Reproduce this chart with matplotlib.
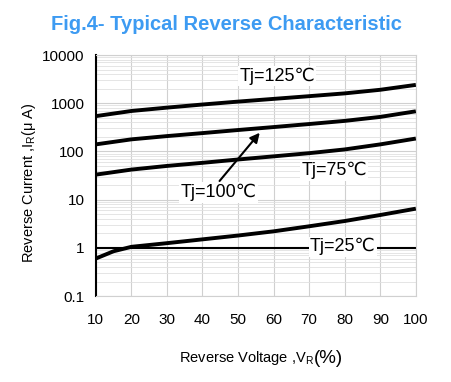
import numpy as np
import matplotlib
matplotlib.use("Agg")
import matplotlib.pyplot as plt
from matplotlib.ticker import LogLocator, FixedLocator, NullFormatter

plt.rcParams['font.family'] = ['Liberation Sans', 'DejaVu Sans']
plt.rcParams['mathtext.fontset'] = 'custom'
plt.rcParams['mathtext.rm'] = 'Liberation Sans'

# reverse voltage (% of rated)
volt = [10, 20, 30, 40, 50, 60, 70, 80, 90, 100]
# reverse current in uA
i_125 = [540, 690, 810, 940, 1080, 1230, 1400, 1600, 1900, 2400]
i_100 = [140, 178, 208, 240, 278, 320, 370, 430, 520, 680]
i_75 = [33, 42, 50, 58, 68, 79, 92, 110, 140, 185]
volt_25 = [10, 15, 20, 30, 40, 50, 60, 70, 80, 90, 100]
i_25 = [0.6, 0.85, 1.05, 1.25, 1.5, 1.8, 2.2, 2.8, 3.6, 4.8, 6.5]

fig = plt.figure(figsize=(4.52, 3.82), dpi=100)
ax = fig.add_axes([0.212, 0.225, 0.708, 0.631])

ax.set_yscale('log')
ax.set_xlim(10, 100)
ax.set_ylim(0.1, 10000)
ax.xaxis.set_major_locator(FixedLocator(volt))
ax.yaxis.set_minor_locator(LogLocator(base=10, subs=np.arange(2, 10), numticks=20))
ax.yaxis.set_minor_formatter(NullFormatter())
ax.set_yticks([0.1, 1, 10, 100, 1000, 10000])
ax.set_yticklabels(['0.1', '1', '10', '100', '1000', '10000'])

ax.grid(True, which='major', color='#d0d0d0', linewidth=0.8)
ax.grid(True, which='minor', axis='y', color='#e0e0e0', linewidth=0.6)
ax.tick_params(which='both', length=0, labelsize=11)
ax.tick_params(axis='x', pad=12)
ax.tick_params(axis='y', pad=8)

for s in ['top', 'right', 'bottom']:
    ax.spines[s].set_color('#d0d0d0')
ax.spines['left'].set_color('black')
ax.spines['left'].set_linewidth(1.5)

ax.axhline(1, color='black', linewidth=1.5, zorder=2)

for v, cur in [(volt, i_125), (volt, i_100), (volt, i_75), (volt_25, i_25)]:
    ax.plot(v, cur, color='black', linewidth=2.8, solid_capstyle='butt',
            solid_joinstyle='round', zorder=3)

box = dict(facecolor='white', edgecolor='none', pad=1)
ax.text(61, 3700, 'Tj=125℃', fontsize=13, ha='center', va='center', bbox=box)
ax.text(44.6, 14, 'Tj=100℃', fontsize=13, ha='center', va='center', bbox=box)
ax.text(77, 40, 'Tj=75℃', fontsize=13, ha='center', va='center', bbox=box)
ax.text(79.5, 1.05, 'Tj=25℃', fontsize=13, ha='center', va='center', bbox=box, zorder=4)

ax.annotate('', xy=(56.6, 270), xytext=(44.3, 22),
            arrowprops=dict(arrowstyle='-|>', color='black', lw=1.5, mutation_scale=14))

ax.set_ylabel(r'Reverse Current ,I$_\mathregular{R}$(μ A)', fontsize=10.5)
ax.yaxis.set_label_coords(-0.18, 0.47)
xl = ax.set_xlabel(r'Reverse Voltage ,V$_\mathregular{R}$', fontsize=10.5, labelpad=16)
xl.set_x(0.47)
ax.annotate('(%)', xy=(1, 0.45), xycoords=xl, fontsize=13.5, ha='left', va='center')

fig.text(0.5, 0.937, 'Fig.4- Typical Reverse Characteristic', color='#3d9bf2',
         fontsize=14.5, fontweight='bold', ha='center', va='center')

fig.savefig('out.png', dpi=100)
